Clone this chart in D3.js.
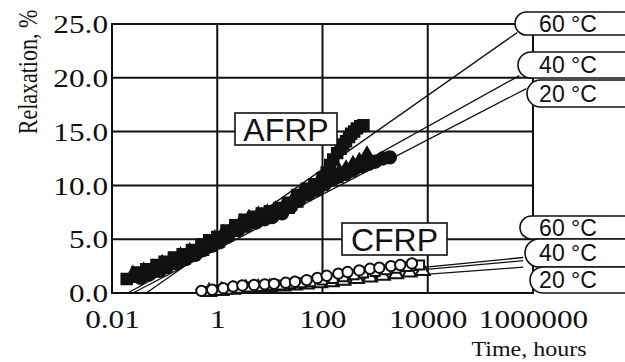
<!DOCTYPE html>
<html>
<head>
<meta charset="utf-8">
<script src="https://cdn.jsdelivr.net/npm/d3@7"></script>
<style>
  body{margin:0;background:#fff;}
  svg{display:block;}
  .serif{font-family:"Liberation Serif","Times New Roman",serif;fill:#111;}
  .sans{font-family:"Liberation Sans",Arial,sans-serif;fill:#111;}
</style>
</head>
<body>
<div id="chart"></div>
<script>
//tick labels
const xTicks = [0.01, 1, 100, 10000, 1000000];
const xTickLabels = ["0.01", "1", "100", "10000", "1000000"];
const yTicks = [0, 5, 10, 15, 20, 25];
const yTickLabels = ["0.0", "5.0", "10.0", "15.0", "20.0", "25.0"];
const tempLabels = ["60 °C", "40 °C", "20 °C"];

//AFRP measured points (time in hours, relaxation %)
const afrpT60 = [0.019, 0.03, 0.045, 0.07, 0.1, 0.15, 0.22, 0.33, 0.5, 0.7, 1, 1.5, 2.2, 3.3, 5, 7, 10, 15, 22, 33, 50, 70, 100, 120, 140, 160, 190, 220, 250, 280, 320, 350, 400, 450, 520, 600];
const afrpR60 = [1.3, 1.9, 2.2, 2.6, 2.9, 3.3, 3.6, 4.0, 4.5, 4.9, 5.2, 5.8, 6.3, 6.8, 7.1, 7.4, 7.6, 7.9, 8.4, 9.1, 9.7, 10.1, 10.7, 11.2, 11.9, 12.4, 13.0, 13.4, 13.8, 14.1, 14.5, 14.8, 15.0, 15.3, 15.5, 15.6];
const afrpT40 = [0.025, 0.04, 0.06, 0.09, 0.13, 0.2, 0.3, 0.45, 0.65, 0.9, 1.3, 1.9, 2.8, 4, 6, 9, 13, 19, 28, 40, 60, 85, 120, 160, 210, 280, 380, 500, 700];
const afrpR40 = [1.5, 1.8, 2.1, 2.5, 2.8, 3.2, 3.6, 4.0, 4.4, 4.8, 5.3, 5.8, 6.3, 6.7, 7.0, 7.2, 7.5, 7.9, 8.5, 9.1, 9.6, 10.1, 10.5, 10.8, 11.0, 11.3, 11.7, 12.0, 12.6];
const afrpT20 = [0.035, 0.05, 0.08, 0.11, 0.17, 0.25, 0.38, 0.55, 0.8, 1.1, 1.6, 2.5, 3.6, 5.5, 8, 11, 17, 25, 36, 55, 80, 110, 150, 200, 280, 400, 550, 750, 1000, 1400, 1900];
const afrpR20 = [1.4, 1.7, 2.05, 2.4, 2.75, 3.15, 3.55, 4.0, 4.4, 4.7, 5.25, 5.85, 6.25, 6.55, 6.85, 7.05, 7.4, 8.0, 8.6, 9.2, 9.6, 10.1, 10.5, 10.8, 11.1, 11.5, 11.8, 12.0, 12.2, 12.5, 12.6];

//CFRP measured points
const cfrpT60 = [0.5, 0.8, 1.3, 2, 3, 5, 8, 12, 20, 30, 50, 80, 120, 200, 300, 500, 800, 1200, 2000, 3000, 5000];
const cfrpR60 = [0.2, 0.3, 0.45, 0.6, 0.7, 0.75, 0.8, 0.85, 0.95, 1.05, 1.2, 1.4, 1.6, 1.8, 1.95, 2.1, 2.25, 2.35, 2.5, 2.6, 2.75];
const cfrpT40 = [0.6, 1, 1.6, 2.5, 4, 6, 10, 16, 25, 40, 60, 100, 160, 250, 400, 600, 1000, 1600, 2500, 4000, 7000];
const cfrpR40 = [0.15, 0.25, 0.35, 0.45, 0.55, 0.6, 0.7, 0.75, 0.85, 0.95, 1.05, 1.2, 1.35, 1.5, 1.7, 1.85, 2.0, 2.15, 2.3, 2.45, 2.6];
const cfrpT20 = [0.7, 1.2, 2, 3.5, 6, 10, 18, 30, 50, 90, 150, 250, 450, 800, 1400, 2500, 4500, 8000];
const cfrpR20 = [0.1, 0.2, 0.3, 0.4, 0.45, 0.5, 0.6, 0.7, 0.8, 0.9, 1.0, 1.15, 1.3, 1.45, 1.6, 1.75, 1.9, 2.05];

//fitted trend lines, [time, relaxation] at each end
const fitAFRP60 = [[0.045, 0], [5.0e5, 24.2]];
const fitAFRP40 = [[0.02, 0], [5.5e5, 20.2]];
const fitAFRP20 = [[0.025, 0], [7.5e5, 19.0]];
const fitCFRP60 = [[1, 0.5], [6.5e5, 3.3]];
const fitCFRP40 = [[1, 0.45], [6.5e5, 3.0]];
const fitCFRP20 = [[1, 0.3], [6.5e5, 2.4]];

const w = 625;
const h = 362;
const ink = "#111";

const xScale = d3.scaleLog()
                .domain([0.01, 1000000])
                .range([112, 533]);

const yScale = d3.scaleLinear()
                .domain([0, 25])
                .range([293, 24]);

const svg = d3.select("#chart")
                .append("svg")
                .attr("width", w)
                .attr("height", h);

//grid lines inside the plot
svg.append("g")
    .selectAll("line")
    .data(xTicks.slice(1, -1))
    .enter()
    .append("line")
    .attr("x1", d => xScale(d)).attr("x2", d => xScale(d))
    .attr("y1", yScale(25)).attr("y2", yScale(0))
    .attr("stroke", ink).attr("stroke-width", 2);

svg.append("g")
    .selectAll("line")
    .data(yTicks.slice(1, -1))
    .enter()
    .append("line")
    .attr("x1", xScale(0.01)).attr("x2", xScale(1000000))
    .attr("y1", d => yScale(d)).attr("y2", d => yScale(d))
    .attr("stroke", ink).attr("stroke-width", 2);

//plot frame
svg.append("rect")
    .attr("x", xScale(0.01))
    .attr("y", yScale(25))
    .attr("width", xScale(1000000) - xScale(0.01))
    .attr("height", yScale(0) - yScale(25))
    .attr("fill", "none")
    .attr("stroke", ink)
    .attr("stroke-width", 2);

//axes, only the labels are shown
const xAxis = d3.axisBottom(xScale)
                .tickValues(xTicks)
                .tickSize(0)
                .tickFormat((d, i) => xTickLabels[i]);

const yAxis = d3.axisLeft(yScale)
                .tickValues(yTicks)
                .tickSize(0)
                .tickFormat((d, i) => yTickLabels[i]);

const gx = svg.append("g")
    .attr("transform", "translate(0," + yScale(0) + ")")
    .call(xAxis);
gx.select(".domain").remove();
gx.selectAll("text")
    .attr("class", "serif")
    .attr("y", 0)
    .attr("dy", 0)
    .attr("transform", "translate(0,35) scale(1.25,1)")
    .style("font-size", "25px")
    .style("fill", ink);

const gy = svg.append("g")
    .attr("transform", "translate(" + xScale(0.01) + ",0)")
    .call(yAxis);
gy.select(".domain").remove();
gy.selectAll("text")
    .attr("class", "serif")
    .attr("x", 0)
    .attr("dy", "0.35em")
    .attr("transform", "translate(-4,0) scale(1.25,1)")
    .style("font-size", "25px")
    .style("fill", ink);

//axis titles
svg.append("text")
    .attr("class", "serif")
    .attr("transform", "translate(37,72) scale(1.2,1) rotate(-90)")
    .attr("text-anchor", "middle")
    .style("font-size", "22px")
    .text("Relaxation, %");

svg.append("text")
    .attr("class", "serif")
    .attr("transform", "translate(529,356) scale(1.2,1)")
    .attr("text-anchor", "middle")
    .style("font-size", "20px")
    .text("Time, hours");

//fitted lines
const line = d3.line()
                .x(d => xScale(d[0]))
                .y(d => yScale(d[1]));

[fitAFRP60, fitAFRP40, fitAFRP20, fitCFRP60, fitCFRP40, fitCFRP20].forEach(f => {
    svg.append("path")
        .attr("d", line(f))
        .attr("fill", "none")
        .attr("stroke", ink)
        .attr("stroke-width", 1.3);
});

//helper: zip times with values
function pts(t, r){
    return t.map((d, i) => [d, r[i]]);
}

function drawSeries(data, type, size, filled){
    svg.append("g")
        .selectAll("path")
        .data(data)
        .enter()
        .append("path")
        .attr("d", d3.symbol().type(type).size(size))
        .attr("transform", d => "translate(" + xScale(d[0]) + "," + yScale(d[1]) + ")")
        .attr("fill", filled ? ink : "#fff")
        .attr("stroke", ink)
        .attr("stroke-width", filled ? 1.5 : 2);
}

//CFRP open markers
drawSeries(pts(cfrpT20, cfrpR20), d3.symbolTriangle, 85, false);
drawSeries(pts(cfrpT40, cfrpR40), d3.symbolSquare, 80, false);
drawSeries(pts(cfrpT60, cfrpR60), d3.symbolCircle, 85, false);

//AFRP filled markers
drawSeries(pts(afrpT20, afrpR20), d3.symbolCircle, 130, true);
drawSeries(pts(afrpT40, afrpR40), d3.symbolTriangle, 150, true);
drawSeries(pts(afrpT60, afrpR60), d3.symbolSquare, 120, true);

//material labels
function boxLabel(x0, y0, x1, y1, txt){
    svg.append("rect")
        .attr("x", x0).attr("y", y0)
        .attr("width", x1 - x0).attr("height", y1 - y0)
        .attr("fill", "#fff")
        .attr("stroke", ink)
        .attr("stroke-width", 1.6);
    svg.append("text")
        .attr("class", "sans")
        .attr("x", (x0 + x1) / 2)
        .attr("y", y1 - 4)
        .attr("text-anchor", "middle")
        .style("font-size", "32px")
        .text(txt);
}
boxLabel(235, 113, 337, 145, "AFRP");
boxLabel(342, 223, 447, 255, "CFRP");

//temperature pills, drawn top to bottom so lower ones overlap
function pill(x0, y0, y1, txt){
    const hh = y1 - y0;
    svg.append("rect")
        .attr("x", x0).attr("y", y0)
        .attr("width", 640 - x0).attr("height", hh)
        .attr("rx", hh / 2).attr("ry", hh / 2)
        .attr("fill", "#fff")
        .attr("stroke", ink)
        .attr("stroke-width", 1.6);
    svg.append("text")
        .attr("class", "sans")
        .attr("x", 568)
        .attr("y", (y0 + y1) / 2)
        .attr("dy", "0.36em")
        .attr("text-anchor", "middle")
        .style("font-size", "23px")
        .text(txt);
}

pill(515, 12, 35, tempLabels[0]);
pill(518, 52, 78, tempLabels[1]);
pill(527, 80, 107, tempLabels[2]);
pill(520, 216, 239, tempLabels[0]);
pill(525, 239, 267, tempLabels[1]);
pill(530, 267, 293, tempLabels[2]);
</script>
</body>
</html>
